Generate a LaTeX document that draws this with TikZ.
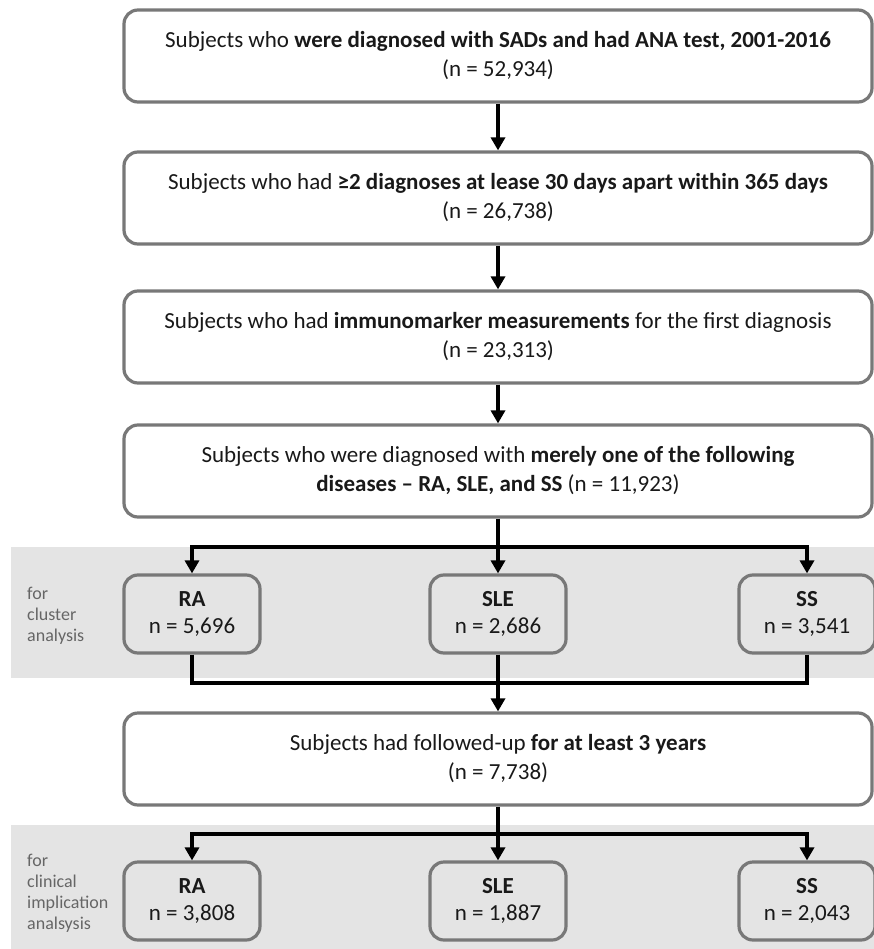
\documentclass[tikz,border=0pt]{standalone}
\usepackage{fontspec}
\setmainfont{Carlito}
\usetikzlibrary{arrows.meta, calc, positioning, backgrounds}
\definecolor{boxgray}{rgb}{0.47, 0.47, 0.47}
\definecolor{bandgray}{rgb}{0.894, 0.894, 0.894}
\definecolor{labelgray}{rgb}{0.40, 0.40, 0.40}
\definecolor{textblack}{rgb}{0.10, 0.10, 0.10}

\begin{document}
\begin{tikzpicture}[x=1pt, y=-1pt,
    mainbox/.style={draw=boxgray, line width=3.2pt, rounded corners=14pt, fill=white, text=textblack,
        minimum width=748pt, minimum height=92pt, inner sep=0pt, align=center, font=\fontsize{23}{29}\selectfont},
    groupbox/.style={draw=boxgray, line width=3.2pt, rounded corners=14pt, fill=bandgray, text=textblack,
        minimum width=136pt, minimum height=78pt, inner sep=0pt, align=center, font=\fontsize{23}{27}\selectfont},
    bandlabel/.style={anchor=west, align=left, text=labelgray, inner sep=0pt, font=\fontsize{18}{21}\selectfont},
    conn/.style={line width=3.2pt, black},
    arr/.style={conn, -{Triangle[length=13pt, width=14pt]}}]
    \useasboundingbox (0, 0) rectangle (874, 949);
    % grey bands behind the groups
    \fill[bandgray] (11, 547) rectangle (874, 678);
    \fill[bandgray] (11, 825) rectangle (874, 949);

    \node[mainbox] (Sads) at (498, 56) {Subjects who \textbf{were diagnosed with SADs and had ANA test, 2001-2016}\\(n = 52,934)};
    \node[mainbox] (Twodiag) at (498, 198) {Subjects who had \textbf{≥2 diagnoses at lease 30 days apart within 365 days}\\(n = 26,738)};
    \node[mainbox] (Immuno) at (498, 337) {Subjects who had \textbf{immunomarker measurements} for the first diagnosis\\(n = 23,313)};
    \node[mainbox] (Merely) at (498, 471) {Subjects who were diagnosed with \textbf{merely one of the following}\\\textbf{diseases -- RA, SLE, and SS} (n = 11,923)};
    \node[mainbox] (Follow) at (498, 759) {Subjects had followed-up \textbf{for at least 3 years}\\(n = 7,738)};

    \node[groupbox] (Ca) at (192, 614) {\textbf{RA}\\n = 5,696};
    \node[groupbox] (Cb) at (498, 614) {\textbf{SLE}\\n = 2,686};
    \node[groupbox] (Cc) at (807, 614) {\textbf{SS}\\n = 3,541};
    \node[groupbox] (Ia) at (192, 901) {\textbf{RA}\\n = 3,808};
    \node[groupbox] (Ib) at (498, 901) {\textbf{SLE}\\n = 1,887};
    \node[groupbox] (Ic) at (807, 901) {\textbf{SS}\\n = 2,043};

    \node[bandlabel] (Lc) at (27, 616) {for\\cluster\\analysis};
    \node[bandlabel] (Li) at (27, 893) {for\\clinical\\implication\\analsysis};

    \coordinate (Jsplit) at (498, 547);
    \coordinate (Jmerge) at (498, 683);
    \coordinate (Jfollow) at (498, 834);

    \draw[arr] (Sads) -- (Twodiag);
    \draw[arr] (Twodiag) -- (Immuno);
    \draw[arr] (Immuno) -- (Merely);

    \draw[arr] (Merely) -- (Cb);
    \draw[arr] (Jsplit) -| (Ca);
    \draw[arr] (Jsplit) -| (Cc);

    \draw[conn] (Ca) |- (Jmerge);
    \draw[conn] (Cc) |- (Jmerge);
    \draw[arr] (Cb) -- (Follow);

    \draw[arr] (Follow) -- (Ib);
    \draw[arr] (Jfollow) -| (Ia);
    \draw[arr] (Jfollow) -| (Ic);
\end{tikzpicture}
\end{document}
